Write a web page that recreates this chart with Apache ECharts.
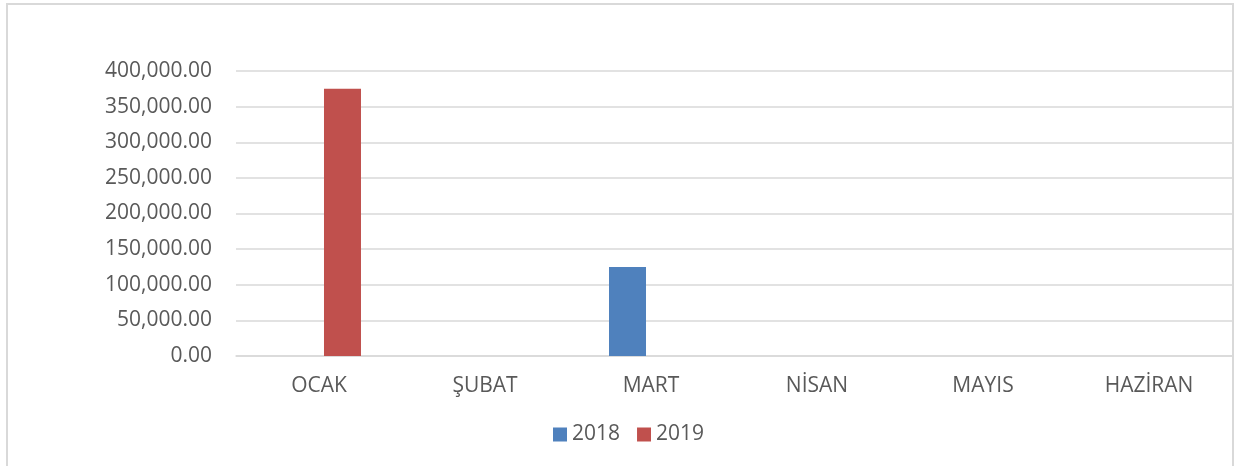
<!DOCTYPE html>
<html>
<head>
<meta charset="utf-8">
<script src="https://cdn.jsdelivr.net/npm/echarts@6/dist/echarts.min.js"></script>
<style>
  html, body { margin: 0; padding: 0; background: #fff; }
  #chart { width: 1238px; height: 466px; }
</style>
</head>
<body>
<div id="chart"></div>
<script>
// aylar ve yıllara göre değerler
const months = ['OCAK', 'ŞUBAT', 'MART', 'NİSAN', 'MAYIS', 'HAZİRAN'];
const values2018 = [0, 0, 125000, 0, 0, 0];
const values2019 = [375000, 0, 0, 0, 0, 0];
const yTicks = { min: 0, max: 400000, interval: 50000 };

let myChart = echarts.init(document.getElementById('chart'));
let textColor = '#595959';
let font = '"Open Sans", "Noto Sans", sans-serif';

let option = {
  backgroundColor: '#fff',
  animation: false,
  graphic: [{
    type: 'rect',
    shape: { x: 7, y: 4, width: 1226, height: 480 },
    style: { fill: 'none', stroke: '#d9d9d9', lineWidth: 2 },
    silent: true
  }],
  grid: {
    left: 236,
    right: 6,
    top: 71,
    bottom: 110,
    containLabel: false
  },
  legend: {
    left: 548,
    top: 419,
    itemWidth: 14,
    itemHeight: 14,
    itemGap: 17,
    icon: 'rect',
    textStyle: { color: textColor, fontSize: 21, fontFamily: font },
    data: ['2018', '2019']
  },
  xAxis: {
    type: 'category',
    data: months,
    axisLine: { lineStyle: { color: '#d9d9d9', width: 1.5 } },
    axisTick: { show: false },
    axisLabel: { color: textColor, fontSize: 21, fontFamily: font, margin: 20 }
  },
  yAxis: {
    type: 'value',
    min: yTicks.min,
    max: yTicks.max,
    interval: yTicks.interval,
    axisLine: { show: false },
    axisTick: { show: false },
    splitLine: { lineStyle: { color: '#d9d9d9', width: 1.5 } },
    axisLabel: {
      color: textColor,
      fontSize: 21,
      fontFamily: font,
      margin: 24,
      formatter: v => v.toLocaleString('en-US', { minimumFractionDigits: 2, maximumFractionDigits: 2 })
    }
  },
  series: [
    {
      name: '2018',
      type: 'bar',
      data: values2018,
      barWidth: 37,
      barGap: '27%',
      itemStyle: { color: '#4f81bd' }
    },
    {
      name: '2019',
      type: 'bar',
      data: values2019,
      barWidth: 37,
      barGap: '27%',
      itemStyle: { color: '#c0504d' }
    }
  ]
};
myChart.setOption(option);
</script>
</body>
</html>
